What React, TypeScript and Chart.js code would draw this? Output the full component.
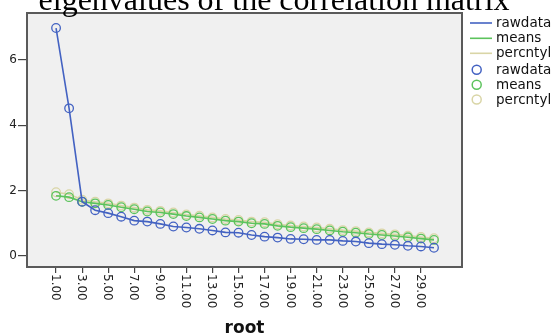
import React, { useEffect, useRef } from "react";
import { Chart, registerables } from "chart.js";

Chart.register(...registerables);

const roots = [1,2,3,4,5,6,7,8,9,10,11,12,13,14,15,16,17,18,19,20,21,22,23,24,25,26,27,28,29,30];
const rawdata = [6.98,4.52,1.66,1.40,1.31,1.20,1.08,1.05,0.98,0.90,0.87,0.83,0.78,0.72,0.71,0.64,0.59,0.56,0.52,0.51,0.49,0.49,0.46,0.44,0.39,0.36,0.34,0.31,0.29,0.25];
const means = [1.84,1.80,1.66,1.61,1.56,1.49,1.43,1.36,1.33,1.28,1.22,1.18,1.13,1.08,1.05,1.00,0.98,0.92,0.88,0.85,0.82,0.78,0.74,0.71,0.67,0.64,0.61,0.57,0.53,0.49];
const percntyl = [1.95,1.89,1.72,1.66,1.61,1.54,1.48,1.41,1.38,1.33,1.27,1.23,1.18,1.13,1.10,1.05,1.03,0.97,0.93,0.90,0.87,0.83,0.79,0.76,0.72,0.69,0.66,0.62,0.58,0.54];
const xTicks = [1,3,5,7,9,11,13,15,17,19,21,23,25,27,29];
const yTicks = [0,2,4,6];
const seriesNames = ["rawdata", "means", "percntyl"];
const titleText = "eigenvalues of the correlation matrix";
const xTitle = "root";

const COLORS = ["#4362c2", "#5cc35c", "#d9d5a6"];
const SANS = "'DejaVu Sans', sans-serif";

export default function App() {
  const ref = useRef<HTMLCanvasElement | null>(null);
  useEffect(() => {
    const canvas = ref.current;
    if (!canvas) return;
    const seriesData = [rawdata, means, percntyl];

    const framePlugin = {
      id: "frame",
      beforeDraw(chart: any) {
        const { ctx, chartArea: a } = chart;
        ctx.save();
        ctx.fillStyle = "#ffffff";
        ctx.fillRect(0, 0, chart.width, chart.height);
        ctx.fillStyle = "#f0f0f0";
        ctx.fillRect(a.left, a.top, a.right - a.left, a.bottom - a.top);
        ctx.restore();
      },
      afterDatasetsDraw(chart: any) {
        const { ctx, chartArea: a } = chart;
        ctx.save();
        ctx.strokeStyle = "#5a5a5a";
        ctx.lineWidth = 2;
        ctx.strokeRect(a.left, a.top, a.right - a.left, a.bottom - a.top);
        ctx.restore();
      },
      afterDraw(chart: any) {
        const { ctx, chartArea: a } = chart;
        const xs = chart.scales.x;
        ctx.save();
        // rotated x tick labels (clockwise)
        ctx.fillStyle = "#222";
        ctx.font = `12px ${SANS}`;
        ctx.textAlign = "left";
        ctx.textBaseline = "middle";
        xs.ticks.forEach((t: any) => {
          const px = xs.getPixelForValue(t.value);
          ctx.save();
          ctx.translate(px - 1, a.bottom + 7);
          ctx.rotate(Math.PI / 2);
          ctx.fillText(Number(t.value).toFixed(2), 0, 0);
          ctx.restore();
        });
        // title
        ctx.fillStyle = "#000";
        ctx.font = `32px 'Liberation Serif', 'Times New Roman', serif`;
        ctx.textAlign = "center";
        ctx.textBaseline = "alphabetic";
        ctx.fillText(titleText, 274, 10);
        // legend
        const lx = 470, tx = 496;
        const rows = [23, 38.3, 53.3, 69.8, 84.8, 99.5];
        ctx.font = `13.5px ${SANS}`;
        ctx.textAlign = "left";
        ctx.textBaseline = "middle";
        for (let i = 0; i < 3; i++) {
          const y = rows[i];
          ctx.strokeStyle = COLORS[i];
          ctx.lineWidth = 1.6;
          ctx.beginPath();
          ctx.moveTo(lx, y);
          ctx.lineTo(lx + 22, y);
          ctx.stroke();
          ctx.fillStyle = "#111";
          ctx.fillText(seriesNames[i], tx, y + 0.5);
        }
        for (let i = 0; i < 3; i++) {
          const y = rows[i + 3];
          ctx.strokeStyle = COLORS[i];
          ctx.lineWidth = 1.5;
          ctx.beginPath();
          ctx.arc(476.7, y, 4.5, 0, Math.PI * 2);
          ctx.stroke();
          ctx.fillStyle = "#111";
          ctx.fillText(seriesNames[i], tx, y + 0.5);
        }
        ctx.restore();
      },
    };

    const chart = new Chart(canvas, {
      type: "line",
      data: {
        datasets: seriesData.map((vals, i) => ({
          label: seriesNames[i],
          data: roots.map((r, j) => ({ x: r, y: vals[j] })),
          borderColor: COLORS[i],
          backgroundColor: "rgba(0,0,0,0)",
          borderWidth: 1.6,
          pointRadius: 4.3,
          pointBorderWidth: 1.3,
          pointBorderColor: COLORS[i],
          pointBackgroundColor: "rgba(0,0,0,0)",
          pointStyle: "circle",
          tension: 0,
          fill: false,
          clip: false as any,
        })),
      },
      options: {
        responsive: false,
        animation: false,
        layout: { padding: { top: 13, right: 90, left: 0, bottom: 0 } },
        plugins: { legend: { display: false }, tooltip: { enabled: false }, title: { display: false } },
        scales: {
          x: {
            type: "linear",
            min: -1.23,
            max: 32.15,
            afterBuildTicks: (s: any) => { s.ticks = xTicks.map((v) => ({ value: v })); },
            afterFit: (s: any) => { s.height = 69; },
            ticks: { display: false },
            grid: { drawOnChartArea: false, drawTicks: true, tickLength: 6, color: "#444", lineWidth: 1.2 },
            border: { display: false },
            title: { display: true, text: xTitle, color: "#111", font: { family: SANS, size: 17, weight: "bold", lineHeight: 1 }, padding: { top: 0, bottom: -1 } },
          },
          y: {
            type: "linear",
            min: -0.34,
            max: 7.44,
            afterBuildTicks: (s: any) => { s.ticks = yTicks.map((v) => ({ value: v })); },
            afterFit: (s: any) => { s.width = 27; },
            ticks: { color: "#222", font: { family: SANS, size: 12 }, padding: 1 },
            grid: { drawOnChartArea: false, drawTicks: true, tickLength: 9, color: "#444", lineWidth: 1.2 },
            border: { display: false },
          },
        },
      },
      plugins: [framePlugin],
    } as any);
    return () => chart.destroy();
  }, []);

  return (
    <div style={{ position: "absolute", left: 0, top: 0, width: 552, height: 336 }}>
      <canvas ref={ref} width={552} height={336} />
    </div>
  );
}
